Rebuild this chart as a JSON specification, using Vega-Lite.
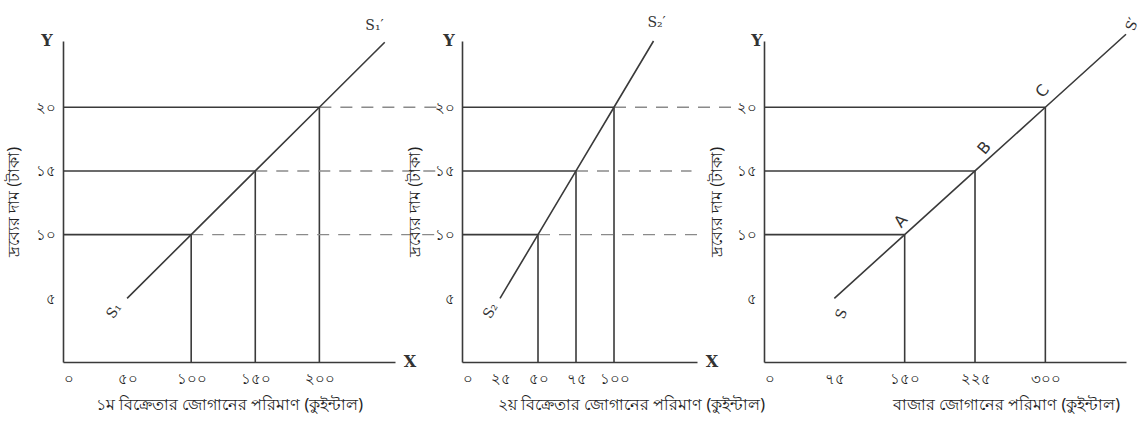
{
  "$schema": "https://vega.github.io/schema/vega-lite/v6.json",
  "background": "white",
  "padding": {"left": 5, "top": 16, "right": 5, "bottom": 8},
  "spacing": 67,
  "bounds": "flush",
  "config": {
    "view": {"stroke": null},
    "axis": {
      "grid": false,
      "ticks": false,
      "domainColor": "#3a3a3a",
      "domainWidth": 1.6,
      "labelColor": "#222222",
      "titleColor": "#222222",
      "labelFont": "Noto Sans",
      "titleFont": "Noto Sans",
      "labelFontSize": 15,
      "titleFontSize": 16,
      "titleFontWeight": "normal"
    },
    "rule": {"color": "#3a3a3a", "strokeWidth": 1.6},
    "line": {"color": "#3a3a3a", "strokeWidth": 1.6},
    "text": {"font": "DejaVu Serif", "fontSize": 14, "color": "#333333"}
  },
  "datasets": {
    "c1": [{"q": 50, "p": 5}, {"q": 100, "p": 10}, {"q": 150, "p": 15}, {"q": 200, "p": 20}, {"q": 251, "p": 25.1}],
    "p1": [{"q": 100, "p": 10, "q_end": 294}, {"q": 150, "p": 15, "q_end": 294}, {"q": 200, "p": 20, "q_end": 294}],
    "c2": [{"q": 25, "p": 5}, {"q": 50, "p": 10}, {"q": 75, "p": 15}, {"q": 100, "p": 20}, {"q": 126, "p": 25.2}],
    "p2": [{"q": 50, "p": 10, "q_end": 159}, {"q": 75, "p": 15, "q_end": 151}, {"q": 100, "p": 20, "q_end": 177}],
    "c3": [{"q": 75, "p": 5}, {"q": 150, "p": 10}, {"q": 225, "p": 15}, {"q": 300, "p": 20}, {"q": 386, "p": 25.73}],
    "p3": [{"q": 150, "p": 10}, {"q": 225, "p": 15}, {"q": 300, "p": 20}]
  },
  "hconcat": [
    {
      "width": 332,
      "height": 321,
      "encoding": {
        "x": {"field": "q", "type": "quantitative", "scale": {"domain": [0, 259], "nice": false},
          "axis": {"title": "১ম বিক্রেতার জোগানের পরিমাণ (কুইন্টাল)", "values": [0, 50, 100, 150, 200], "labelPadding": 9, "titlePadding": 10,
            "labelExpr": "datum.value == 0 ? '০' : datum.value == 50 ? '৫০' : datum.value == 100 ? '১০০' : datum.value == 150 ? '১৫০' : '২০০'"}},
        "y": {"field": "p", "type": "quantitative", "scale": {"domain": [0, 25.2], "nice": false},
          "axis": {"title": "দ্রব্যের দাম (টাকা)", "values": [5, 10, 15, 20], "labelPadding": 8, "titlePadding": 14,
            "labelExpr": "datum.value == 5 ? '৫' : datum.value == 10 ? '১০' : datum.value == 15 ? '১৫' : '২০'"}}
      },
      "layer": [
        {"data": {"name": "p1"}, "mark": {"type": "rule"}, "encoding": {"x": {"datum": 0, "type": "quantitative"}, "x2": {"field": "q"}}},
        {"data": {"name": "p1"}, "mark": {"type": "rule"}, "encoding": {"y": {"datum": 0, "type": "quantitative"}, "y2": {"field": "p"}}},
        {"data": {"values": [{"q": 50}]}, "mark": {"type": "rule"}, "encoding": {"y": {"datum": 0, "type": "quantitative"}, "y2": {"datum": 0.65}}},
        {"data": {"name": "p1"}, "mark": {"type": "rule", "color": "#8a8a8a", "strokeDash": [12, 9], "strokeWidth": 1.4}, "encoding": {"x2": {"field": "q_end"}}},
        {"data": {"name": "c1"}, "mark": {"type": "line"}},
        {"data": {"values": [{"q": 40, "p": 4.0, "label": "S₁"}]}, "mark": {"type": "text", "angle": 305}, "encoding": {"text": {"field": "label"}}},
        {"data": {"values": [{"q": 243, "p": 26.4, "label": "S₁′"}]}, "mark": {"type": "text"}, "encoding": {"text": {"field": "label"}}},
        {"data": {"values": [{"q": 0, "p": 25.2, "label": "Y"}]}, "mark": {"type": "text", "dx": -16, "fontWeight": "bold", "fontSize": 16}, "encoding": {"text": {"field": "label"}}},
        {"data": {"values": [{"q": 259, "p": 0, "label": "X"}]}, "mark": {"type": "text", "dx": 15, "fontWeight": "bold", "fontSize": 16}, "encoding": {"text": {"field": "label"}}}
      ]
    },
    {
      "width": 235,
      "height": 321,
      "encoding": {
        "x": {"field": "q", "type": "quantitative", "scale": {"domain": [0, 154.6], "nice": false},
          "axis": {"title": "২য় বিক্রেতার জোগানের পরিমাণ (কুইন্টাল)", "values": [0, 25, 50, 75, 100], "labelPadding": 9, "titlePadding": 10, "titleX": 169, "titleAlign": "center",
            "labelExpr": "datum.value == 0 ? '০' : datum.value == 25 ? '২৫' : datum.value == 50 ? '৫০' : datum.value == 75 ? '৭৫' : '১০০'"}},
        "y": {"field": "p", "type": "quantitative", "scale": {"domain": [0, 25.2], "nice": false},
          "axis": {"title": "দ্রব্যের দাম (টাকা)", "values": [5, 10, 15, 20], "labelPadding": 8, "titlePadding": 12,
            "labelExpr": "datum.value == 5 ? '৫' : datum.value == 10 ? '১০' : datum.value == 15 ? '১৫' : '২০'"}}
      },
      "layer": [
        {"data": {"name": "p2"}, "mark": {"type": "rule"}, "encoding": {"x": {"datum": 0, "type": "quantitative"}, "x2": {"field": "q"}}},
        {"data": {"name": "p2"}, "mark": {"type": "rule"}, "encoding": {"y": {"datum": 0, "type": "quantitative"}, "y2": {"field": "p"}}},
        {"data": {"values": [{"q": 25}]}, "mark": {"type": "rule"}, "encoding": {"y": {"datum": 0, "type": "quantitative"}, "y2": {"datum": 0.65}}},
        {"data": {"name": "p2"}, "mark": {"type": "rule", "color": "#8a8a8a", "strokeDash": [12, 9], "strokeWidth": 1.4}, "encoding": {"x2": {"field": "q_end"}}},
        {"data": {"name": "c2"}, "mark": {"type": "line"}},
        {"data": {"values": [{"q": 19, "p": 4.0, "label": "S₂"}]}, "mark": {"type": "text", "angle": 300}, "encoding": {"text": {"field": "label"}}},
        {"data": {"values": [{"q": 128, "p": 26.6, "label": "S₂′"}]}, "mark": {"type": "text"}, "encoding": {"text": {"field": "label"}}},
        {"data": {"values": [{"q": 0, "p": 25.2, "label": "Y"}]}, "mark": {"type": "text", "dx": -13, "fontWeight": "bold", "fontSize": 16}, "encoding": {"text": {"field": "label"}}},
        {"data": {"values": [{"q": 154.6, "p": 0, "label": "X"}]}, "mark": {"type": "text", "dx": 15, "fontWeight": "bold", "fontSize": 16}, "encoding": {"text": {"field": "label"}}}
      ]
    },
    {
      "width": 362,
      "height": 321,
      "encoding": {
        "x": {"field": "q", "type": "quantitative", "scale": {"domain": [0, 386], "nice": false},
          "axis": {"title": "বাজার জোগানের পরিমাণ (কুইন্টাল)", "values": [0, 75, 150, 225, 300], "labelPadding": 9, "titlePadding": 10, "titleX": 242, "titleAlign": "center",
            "labelExpr": "datum.value == 0 ? '০' : datum.value == 75 ? '৭৫' : datum.value == 150 ? '১৫০' : datum.value == 225 ? '২২৫' : '৩০০'"}},
        "y": {"field": "p", "type": "quantitative", "scale": {"domain": [0, 25.2], "nice": false},
          "axis": {"title": "দ্রব্যের দাম (টাকা)", "values": [5, 10, 15, 20], "labelPadding": 8, "titlePadding": 12,
            "labelExpr": "datum.value == 5 ? '৫' : datum.value == 10 ? '১০' : datum.value == 15 ? '১৫' : '২০'"}}
      },
      "layer": [
        {"data": {"name": "p3"}, "mark": {"type": "rule"}, "encoding": {"x": {"datum": 0, "type": "quantitative"}, "x2": {"field": "q"}}},
        {"data": {"name": "p3"}, "mark": {"type": "rule"}, "encoding": {"y": {"datum": 0, "type": "quantitative"}, "y2": {"field": "p"}}},
        {"data": {"values": [{"q": 75}]}, "mark": {"type": "rule"}, "encoding": {"y": {"datum": 0, "type": "quantitative"}, "y2": {"datum": 0.65}}},
        {"data": {"name": "c3"}, "mark": {"type": "line"}},
        {"data": {"values": [{"q": 146, "p": 11.06, "label": "A"}, {"q": 235, "p": 16.8, "label": "B"}, {"q": 297, "p": 21.25, "label": "C"}]}, "mark": {"type": "text", "angle": 310, "font": "DejaVu Sans", "fontSize": 16}, "encoding": {"text": {"field": "label"}}},
        {"data": {"values": [{"q": 83, "p": 3.76, "label": "S"}]}, "mark": {"type": "text", "angle": 290}, "encoding": {"text": {"field": "label"}}},
        {"data": {"values": [{"q": 393, "p": 26.5, "label": "S′"}]}, "mark": {"type": "text", "angle": 290}, "encoding": {"text": {"field": "label"}}},
        {"data": {"values": [{"q": 0, "p": 25.2, "label": "Y"}]}, "mark": {"type": "text", "dx": -7, "fontWeight": "bold", "fontSize": 16}, "encoding": {"text": {"field": "label"}}}
      ]
    }
  ]
}
